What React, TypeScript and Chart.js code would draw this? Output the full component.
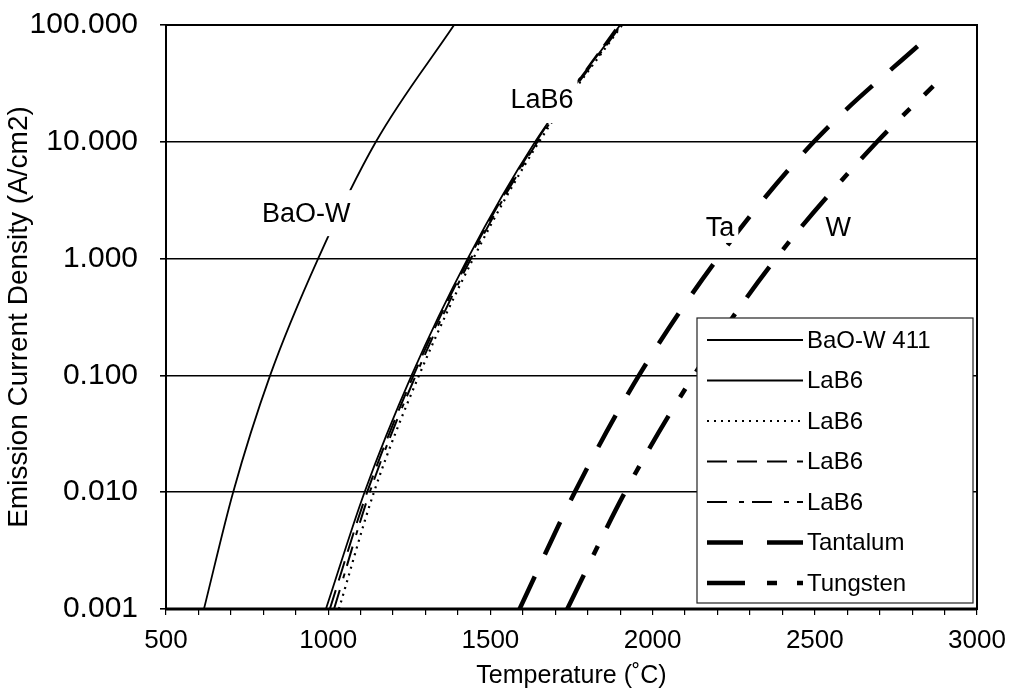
import React, { useEffect, useRef } from "react";
import { Chart, registerables } from "chart.js";
Chart.register(...registerables);

// ---- data ----
const decadeTicks = [0.001, 0.01, 0.1, 1, 10, 100];
const decadeLabels = ["0.001", "0.010", "0.100", "1.000", "10.000", "100.000"];
const xMajorLabels = [500, 1000, 1500, 2000, 2500, 3000];

const baowT = [617, 707, 821, 969, 1147, 1388];
const baowJ = [0.001, 0.01, 0.1, 1, 10, 100];

const lab6J = [0.001, 0.01, 0.1, 1, 10, 100];
const lab6SolidT = [993, 1112, 1257, 1430, 1638, 1900];
const lab6DotT = [1033, 1141, 1280, 1447, 1650, 1906];
const lab6DashT = [1005, 1120, 1263, 1434, 1641, 1895];
const lab6DashDotT = [1018, 1128, 1270, 1440, 1645, 1903];

const taT = [1590, 1760, 1958, 2200, 2497, 2861];
const taJ = [0.001, 0.01, 0.1, 1, 10, 85];

const wT = [1737, 1915, 2127, 2380, 2692, 2865];
const wJ = [0.001, 0.01, 0.1, 1, 10, 30];

const seriesNames = ["BaO-W 411", "LaB6", "LaB6", "LaB6", "LaB6", "Tantalum", "Tungsten"];

const curveLabels = [
  { text: "BaO-W", x: 932, y: 2.45, h: 46 },
  { text: "LaB6", x: 1659, y: 22.8, h: 46 },
  { text: "Ta", x: 2208, y: 1.83, h: 30 },
  { text: "W", x: 2572, y: 1.83, h: 30 },
];

const FONT = "'Liberation Sans', Arial, sans-serif";

function pts(xs: number[], ys: number[]) {
  return xs.map((x, i) => ({ x, y: ys[i] }));
}

const framePlugin = {
  id: "frame",
  afterDatasetsDraw(chart: any) {
    const { ctx, chartArea, scales } = chart;
    const xs = scales.x;
    const ys = scales.y;
    ctx.save();
    // curve labels with white background
    ctx.font = `27px ${FONT}`;
    ctx.textAlign = "center";
    ctx.textBaseline = "middle";
    curveLabels.forEach((l) => {
      const px = xs.getPixelForValue(l.x);
      const py = ys.getPixelForValue(l.y);
      const w = ctx.measureText(l.text).width + 8;
      ctx.fillStyle = "#fff";
      ctx.fillRect(px - w / 2, py - l.h / 2, w, l.h);
      ctx.fillStyle = "#000";
      ctx.fillText(l.text, px, py + 1);
    });

    // legend
    const x0 = chartArea.right - 280;
    const x1 = chartArea.right - 4;
    const y0 = chartArea.top + 293;
    const y1 = chartArea.bottom - 6;
    ctx.fillStyle = "#fff";
    ctx.fillRect(x0, y0, x1 - x0, y1 - y0);
    ctx.strokeStyle = "#222";
    ctx.lineWidth = 1.2;
    ctx.strokeRect(x0, y0, x1 - x0, y1 - y0);
    const ds = chart.data.datasets;
    const step = (y1 - y0 - 42) / (ds.length - 1);
    ds.forEach((d: any, i: number) => {
      const yy = y0 + 22 + i * step;
      ctx.beginPath();
      ctx.setLineDash(d.borderDash || []);
      ctx.lineWidth = d.borderWidth;
      ctx.strokeStyle = "#000";
      ctx.moveTo(x0 + 10, yy);
      ctx.lineTo(x0 + 106, yy);
      ctx.stroke();
      ctx.setLineDash([]);
      ctx.fillStyle = "#000";
      ctx.textAlign = "left";
      ctx.font = `24px ${FONT}`;
      ctx.fillText(seriesNames[i], x0 + 110, yy + 1);
    });

    // plot frame
    ctx.strokeStyle = "#000";
    ctx.lineWidth = 2;
    ctx.strokeRect(chartArea.left, chartArea.top, chartArea.right - chartArea.left, chartArea.bottom - chartArea.top);
    ctx.lineWidth = 3;
    ctx.beginPath();
    ctx.moveTo(chartArea.left, chartArea.bottom);
    ctx.lineTo(chartArea.right, chartArea.bottom);
    ctx.stroke();
    ctx.restore();
  },
};

export default function App() {
  const ref = useRef<HTMLCanvasElement>(null);
  useEffect(() => {
    document.body.style.margin = "0";
    const lineBase = { pointRadius: 0, borderColor: "#000", backgroundColor: "#000", fill: false, cubicInterpolationMode: "monotone" as const };
    const chart = new Chart(ref.current!, {
      type: "line",
      data: {
        datasets: [
          { ...lineBase, label: seriesNames[0], data: pts(baowT, baowJ), borderWidth: 1.8, borderDash: [] },
          { ...lineBase, label: seriesNames[1], data: pts(lab6SolidT, lab6J), borderWidth: 1.8, borderDash: [] },
          { ...lineBase, label: seriesNames[2], data: pts(lab6DotT, lab6J), borderWidth: 2.2, borderDash: [2, 5] },
          { ...lineBase, label: seriesNames[3], data: pts(lab6DashT, lab6J), borderWidth: 2, borderDash: [20, 10] },
          { ...lineBase, label: seriesNames[4], data: pts(lab6DashDotT, lab6J), borderWidth: 2, borderDash: [20, 12, 5, 8] },
          { ...lineBase, label: seriesNames[5], data: pts(taT, taJ), borderWidth: 4.5, borderDash: [36, 24] },
          { ...lineBase, label: seriesNames[6], data: pts(wT, wJ), borderWidth: 4.5, borderDash: [38, 22, 10, 20] },
        ],
      },
      options: {
        animation: false,
        responsive: false,
        devicePixelRatio: 1,
        layout: { padding: { left: 0, right: 35, top: 25, bottom: 0 } },
        plugins: { legend: { display: false }, tooltip: { enabled: false } },
        scales: {
          x: {
            type: "linear",
            min: 500,
            max: 3000,
            afterBuildTicks: (s: any) => {
              const t: any[] = [];
              for (let v = 500; v <= 3000; v += 100) t.push({ value: v });
              s.ticks = t;
            },
            afterFit: (s: any) => {
              s.height = 91;
              s.paddingLeft = 0;
              s.paddingRight = 0;
            },
            grid: { display: true, drawOnChartArea: false, tickLength: 6, color: "#000", lineWidth: 1.2 },
            border: { display: false },
            ticks: {
              autoSkip: false,
              maxRotation: 0,
              padding: 10,
              color: "#000",
              font: { family: FONT, size: 26 },
              callback: (v: any) => (xMajorLabels.includes(Number(v)) ? String(v) : ""),
            },
            title: {
              display: true,
              text: "Temperature (˚C)",
              color: "#000",
              font: { family: FONT, size: 25 },
              padding: { top: 0, bottom: 9 },
            },
          },
          y: {
            type: "logarithmic",
            min: 0.001,
            max: 100,
            afterBuildTicks: (s: any) => {
              s.ticks = decadeTicks.map((v) => ({ value: v }));
            },
            afterFit: (s: any) => {
              s.width = 166;
              s.paddingTop = 0;
              s.paddingBottom = 0;
            },
            grid: { color: "#000", lineWidth: 1.6, tickLength: 6 },
            border: { display: false },
            ticks: {
              padding: 22,
              color: "#000",
              font: { family: FONT, size: 30 },
              callback: (v: any) => {
                const i = decadeTicks.findIndex((d) => Math.abs(d - v) / d < 1e-6);
                return i >= 0 ? decadeLabels[i] : "";
              },
            },
            title: {
              display: true,
              text: "Emission Current Density (A/cm2)",
              color: "#000",
              font: { family: FONT, size: 28 },
              padding: { top: 2, bottom: 0 },
            },
          },
        },
      },
      plugins: [framePlugin],
    });
    return () => chart.destroy();
  }, []);
  return <canvas ref={ref} width={1012} height={700} style={{ display: "block", width: 1012, height: 700 }} />;
}
